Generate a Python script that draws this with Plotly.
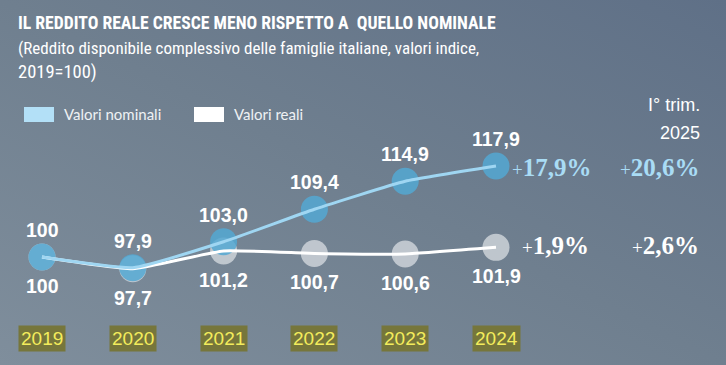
import plotly.graph_objects as go
import base64

# ---- data ----
years = [2019, 2020, 2021, 2022, 2023, 2024]
nominali = [100, 97.9, 103.0, 109.4, 114.9, 117.9]
reali = [100, 97.7, 101.2, 100.7, 100.6, 101.9]
nominali_labels = ["100", "97,9", "103,0", "109,4", "114,9", "117,9"]
reali_labels = ["100", "97,7", "101,2", "100,7", "100,6", "101,9"]
year_labels = ["2019", "2020", "2021", "2022", "2023", "2024"]
var_2024 = ["17,9%", "1,9%"]
var_2025 = ["20,6%", "2,6%"]

W, H = 726, 365
def py(p):
    return 1 - p / H
def px(p):
    return p / W

# background gradient
svg = f'''<svg xmlns="http://www.w3.org/2000/svg" width="{W}" height="{H}" preserveAspectRatio="none">
<defs><linearGradient id="g" x1="0" y1="1" x2="1" y2="0">
<stop offset="0" stop-color="#7f8e9c"/><stop offset="0.5" stop-color="#6f7f8f"/><stop offset="1" stop-color="#5f7087"/>
</linearGradient></defs><rect width="{W}" height="{H}" fill="url(#g)"/></svg>'''
bg = "data:image/svg+xml;base64," + base64.b64encode(svg.encode()).decode()

fig = go.Figure()

NOM_LINE = "#9fd6f2"
NOM_MARK = "rgba(84,168,210,0.85)"
REA_MARK = "rgba(205,210,216,0.85)"

fig.add_trace(go.Scatter(x=years, y=reali, mode="markers",
                         marker=dict(size=27, color=REA_MARK, line=dict(width=0)),
                         hoverinfo="skip", showlegend=False))
fig.add_trace(go.Scatter(x=years, y=nominali, mode="markers",
                         marker=dict(size=27, color=NOM_MARK, line=dict(width=0)),
                         hoverinfo="skip", showlegend=False))
fig.add_trace(go.Scatter(x=years, y=reali, mode="lines",
                         line=dict(color="white", width=3, shape="spline", smoothing=0.4),
                         hoverinfo="skip", showlegend=False))
fig.add_trace(go.Scatter(x=years, y=nominali, mode="lines",
                         line=dict(color=NOM_LINE, width=3, shape="spline", smoothing=0.4),
                         hoverinfo="skip", showlegend=False))

ann = []
VAL_FONT = dict(family="Liberation Sans, Arial", size=19.5, color="white", weight="bold")
for x, y, t in zip(years, nominali, nominali_labels):
    ann.append(dict(x=x, y=y, text=t, showarrow=False, yshift=27, font=VAL_FONT))
for x, y, t in zip(years, reali, reali_labels):
    ann.append(dict(x=x, y=y, text=t, showarrow=False, yshift=-29, font=VAL_FONT))
for x, t in zip(years, year_labels):
    ann.append(dict(x=x, y=py(338), yref="paper", yanchor="middle", text=t, showarrow=False,
                    bgcolor="#76763b", borderpad=2,
                    font=dict(family="Liberation Sans, Arial", size=19, color="#f3ec5c")))

# percentage annotations
def pct(t):
    return f'<span style="font-weight:normal;font-size:19px">+</span>{t}'
SER = "Liberation Serif, Times New Roman, serif"
for xr, yy, t, col in [(593, 167, var_2024[0], "#a9dcf5"), (701, 167, var_2025[0], "#a9dcf5"),
                       (591, 245, var_2024[1], "white"), (701, 245, var_2025[1], "white")]:
    ann.append(dict(x=px(xr), y=py(yy), xref="paper", yref="paper", xanchor="right", yanchor="middle",
                    text=pct(t), showarrow=False,
                    font=dict(family=SER, size=25, color=col, weight="bold")))

# period header
for t, yy in [("I° trim.", 105), ("2025", 133)]:
    ann.append(dict(x=px(702), y=py(yy), xref="paper", yref="paper", xanchor="right", yanchor="middle",
                    text=t, showarrow=False,
                    font=dict(family="Liberation Sans, Arial", size=18, color="white")))

# title / subtitle (condensed face)
COND = "Roboto, Open Sans"
def cond(t):
    return f'<span style="font-stretch:condensed">{t}</span>'
ann.append(dict(x=px(16), y=py(23), xref="paper", yref="paper", xanchor="left", yanchor="middle",
                text=cond("IL REDDITO REALE CRESCE MENO RISPETTO A  QUELLO NOMINALE"), showarrow=False,
                font=dict(family=COND, size=17.7, color="white", weight="bold")))
ann.append(dict(x=px(16), y=py(48), xref="paper", yref="paper", xanchor="left", yanchor="middle",
                text=cond("(Reddito disponibile complessivo delle famiglie italiane, valori indice,"),
                showarrow=False,
                font=dict(family=COND, size=17, color="white")))
ann.append(dict(x=px(16), y=py(72), xref="paper", yref="paper", xanchor="left", yanchor="middle",
                text=cond("2019=100)"), showarrow=False,
                font=dict(family=COND, size=18.5, color="white")))

# legend
LEG_FONT = dict(family="Lato, Noto Sans", size=15, color="#eef1f4")
ann.append(dict(x=px(62), y=py(114), xref="paper", yref="paper", xanchor="left", yanchor="middle",
                text="Valori nominali", showarrow=False, font=LEG_FONT))
ann.append(dict(x=px(232), y=py(114), xref="paper", yref="paper", xanchor="left", yanchor="middle",
                text="Valori reali", showarrow=False, font=LEG_FONT))
shapes = [
    dict(type="rect", xref="paper", yref="paper", x0=px(24), x1=px(54), y0=py(122), y1=py(107),
         fillcolor="#b3e0f7", line=dict(width=0), layer="above"),
    dict(type="rect", xref="paper", yref="paper", x0=px(194), x1=px(224), y0=py(122), y1=py(107),
         fillcolor="white", line=dict(width=0), layer="above"),
]

# axis scaling: 2019 -> 42px, spacing 90.8px; y=100 -> 257px, 5.08 px/unit
xs = 90.8
ys = 5.08
x_range = [2019 - 42 / xs, 2019 + (W - 42) / xs]
y_range = [100 - (H - 257) / ys, 100 + 257 / ys]

fig.update_layout(
    width=W, height=H,
    margin=dict(l=0, r=0, t=0, b=0),
    paper_bgcolor="#6f7f8f", plot_bgcolor="rgba(0,0,0,0)",
    xaxis=dict(range=x_range, visible=False, fixedrange=True),
    yaxis=dict(range=y_range, visible=False, fixedrange=True),
    annotations=ann, shapes=shapes,
    images=[dict(source=bg, xref="paper", yref="paper", x=0, y=1, sizex=1, sizey=1,
                 sizing="stretch", layer="below", xanchor="left", yanchor="top")],
    showlegend=False,
)

fig.write_html("out.html", config={"displayModeBar": False},
               post_script="document.body.style.margin='0';")
